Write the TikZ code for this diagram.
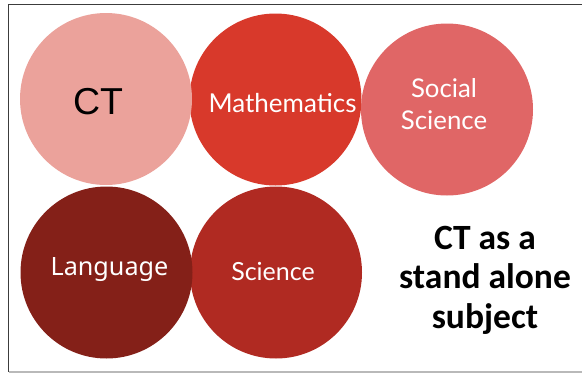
\documentclass[tikz,border=0pt]{standalone}
\usepackage{fontspec}
\setmainfont{Lato}
\newfontfamily\ctfont{Liberation Sans}
\newfontfamily\langfont{Noto Sans}
\newfontfamily\notefont{Carlito}
\definecolor{ctpink}{RGB}{235,162,155}
\definecolor{mathred}{RGB}{216,57,43}
\definecolor{socialred}{RGB}{224,102,102}
\definecolor{langred}{RGB}{132,32,24}
\definecolor{scired}{RGB}{176,42,34}
\definecolor{framedark}{RGB}{60,60,60}
\definecolor{framelight}{RGB}{185,185,185}

\begin{document}
\begin{tikzpicture}[x=1pt,y=-1pt,
  subject/.style={circle,minimum size=172pt,inner sep=0pt},
  subjtext/.style={text=white,font=\fontsize{26}{31.5}\selectfont,align=center,inner sep=0pt}]
\useasboundingbox (0,0) rectangle (582,373);
% frame
\draw[framedark,line width=1.5pt] (582,4.7) -| (8.7,372);
\draw[framelight,line width=1.2pt] (8.7,372) -- (582,372);
% circles
\node at (275.5,99.5)[subject,fill=mathred] (Math) {};
\node at (276,272.5)[subject,fill=scired] (Sci) {};
\node at (447,109.5)[subject,fill=socialred] (Soc) {};
\node at (106,99)[subject,fill=ctpink] (CT) {};
\node at (106.5,272.5)[subject,fill=langred] (Lang) {};
% labels
\node at (98,114)[anchor=base,inner sep=0pt,font=\ctfont\fontsize{37.5}{40}\selectfont] (CTt) {CT};
\node at (282.5,112.7)[anchor=base,subjtext] (Matht) {Mathematics};
\node at (444,104)[subjtext,font=\fontsize{25.8}{31.5}\selectfont] (Soct) {Social\\Science};
\node at (109.5,275)[anchor=base,subjtext,font=\langfont\fontsize{25.2}{30}\selectfont] (Langt) {Language};
\node at (273,280)[anchor=base,subjtext,font=\fontsize{25}{30}\selectfont] (Scit) {Science};
\node at (485,280)[align=center,inner sep=0pt,font=\notefont\bfseries\fontsize{35.5}{39.5}\selectfont] (Note) {CT as a\\stand alone\\subject};
\end{tikzpicture}
\end{document}
